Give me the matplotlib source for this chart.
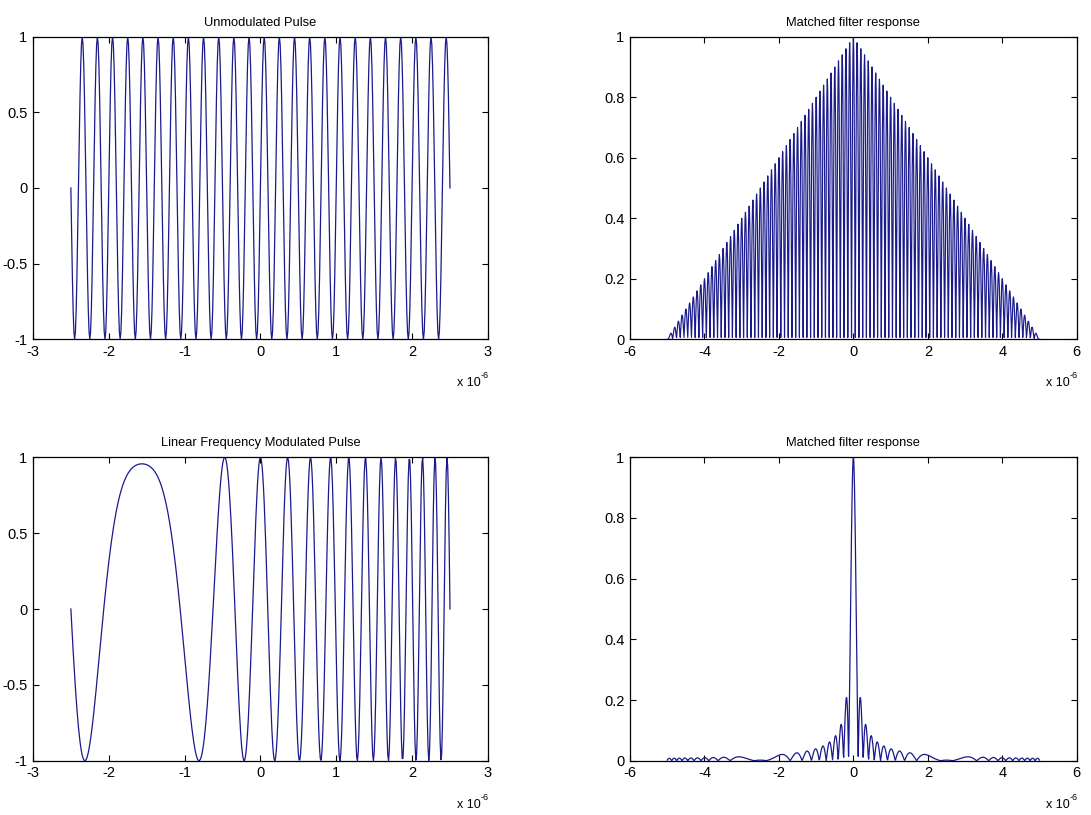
import numpy as np
import matplotlib.pyplot as plt

# pulse parameters
pulse_width = 5e-6          # s
n_samples = 501             # 10 ns sampling
carrier_freq = 5e6          # Hz, unmodulated pulse
lfm_freq = 2.5e6            # Hz, LFM frequency at t = 0
chirp_rate = 1.6e12         # Hz/s

titles = ["Unmodulated Pulse", "Matched filter response",
          "Linear Frequency Modulated Pulse", "Matched filter response"]
pulse_xticks = [-3, -2, -1, 0, 1, 2, 3]
pulse_yticks = [-1, -0.5, 0, 0.5, 1]
pulse_ylabels = ["-1", "-0.5", "0", "0.5", "1"]
mf_xticks = [-6, -4, -2, 0, 2, 4, 6]
mf_yticks = [0, 0.2, 0.4, 0.6, 0.8, 1]
mf_ylabels = ["0", "0.2", "0.4", "0.6", "0.8", "1"]

t = np.linspace(-pulse_width / 2, pulse_width / 2, n_samples)
plain = np.sin(2 * np.pi * carrier_freq * t)
lfm = np.exp(1j * (2 * np.pi * lfm_freq * t + np.pi * chirp_rate * t ** 2))


def matched(x):
    r = np.abs(np.correlate(x, x, mode="full"))
    return r / r.max()


lag = np.linspace(-pulse_width, pulse_width, 2 * n_samples - 1)

plt.rcParams['font.family'] = ['Liberation Sans', 'DejaVu Sans']
col = '#1a1a8c'

fig = plt.figure(figsize=(10.91, 8.15), dpi=100)
ax1 = fig.add_axes([0.0302, 0.5837, 0.4170, 0.3713])
ax2 = fig.add_axes([0.5775, 0.5837, 0.4094, 0.3713])
ax3 = fig.add_axes([0.0302, 0.0666, 0.4170, 0.3723])
ax4 = fig.add_axes([0.5775, 0.0666, 0.4094, 0.3723])

ax1.plot(t * 1e6, plain, color=col, lw=0.9)
ax3.plot(t * 1e6, lfm.real, color=col, lw=0.9)
ax2.plot(lag * 1e6, matched(plain), color=col, lw=0.85)
ax4.plot(lag * 1e6, matched(lfm), color=col, lw=0.9)

for ax, title in zip([ax1, ax2, ax3, ax4], titles):
    ax.set_title(title, fontsize=9.3, pad=8)
    ax.tick_params(direction='in', top=True, right=True, length=4,
                   width=0.8, labelsize=10.5, pad=4)
    for s in ax.spines.values():
        s.set_linewidth(0.9)
    # MATLAB-style exponent under the x axis
    ax.text(0.984, -0.145, 'x 10', transform=ax.transAxes,
            ha='right', va='center', fontsize=9)
    ax.text(0.985, -0.12, '-6', transform=ax.transAxes,
            ha='left', va='center', fontsize=6.5)

for ax in (ax1, ax3):
    ax.set_xlim(-3, 3)
    ax.set_ylim(-1, 1)
    ax.set_xticks(pulse_xticks)
    ax.set_xticklabels([str(v) for v in pulse_xticks])
    ax.set_yticks(pulse_yticks)
    ax.set_yticklabels(pulse_ylabels)

for ax in (ax2, ax4):
    ax.set_xlim(-6, 6)
    ax.set_ylim(0, 1)
    ax.set_xticks(mf_xticks)
    ax.set_xticklabels([str(v) for v in mf_xticks])
    ax.set_yticks(mf_yticks)
    ax.set_yticklabels(mf_ylabels)

fig.savefig("out.png", dpi=100)
